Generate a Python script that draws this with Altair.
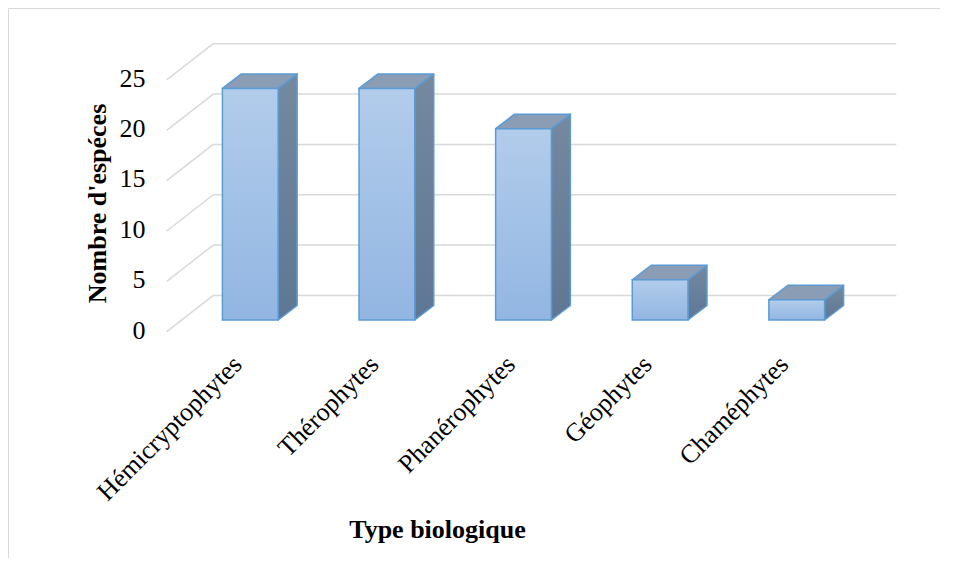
import json
import altair as alt
import pandas as pd

categories = ["Hémicryptophytes", "Thérophytes", "Phanérophytes", "Géophytes", "Chaméphytes"]
values = [23, 23, 19, 4, 2]
y_ticks = [0, 5, 10, 15, 20, 25]

# pseudo-3D geometry, in data units
HW = 0.204             # half width of a bar's front face
DX, DV = 0.139, 1.44   # depth of a bar
BX, BV = 0.229, 2.44   # back wall offset from the bars' front plane
FX, FV = -0.112, -1.16 # floor front offset from the bars' front plane

W, H = 760, 310
X_DOM = [-0.734, 4.829]
Y_DOM = [-1.986, 28.80]
FONT = "Liberation Serif"

n = len(categories)
idx = list(range(n))

bars = pd.DataFrame({"cat": categories, "i": idx, "v": values})
bars["x0"] = bars["i"] - HW
bars["x1"] = bars["i"] + HW
bars["base"] = 0

top_rows, side_rows = [], []
for c, i, v in zip(categories, idx, values):
    top_rows += [dict(cat=c, y=v, xa=i - HW, xb=i + HW),
                 dict(cat=c, y=v + DV, xa=i - HW + DX, xb=i + HW + DX)]
    side_rows += [dict(cat=c, x=i + HW, ya=0, yb=v),
                  dict(cat=c, x=i + HW + DX, ya=DV, yb=v + DV)]
top = pd.DataFrame(top_rows)
side = pd.DataFrame(side_rows)

grid = pd.DataFrame({"t": y_ticks})
grid["bx0"] = -0.5 + BX
grid["bx1"] = n - 0.5 + BX
grid["by"] = grid["t"] + BV
grid["fx"] = -0.5 + FX
grid["fy"] = grid["t"] + FV

xs = alt.Scale(domain=X_DOM, nice=False, zero=False)
ys = alt.Scale(domain=Y_DOM, nice=False, zero=False)

STROKE = "#5b9bd5"
front_grad = alt.Gradient(gradient="linear", x1=0, x2=0, y1=0, y2=1,
                          stops=[alt.GradientStop(color="#b2cceb", offset=0),
                                 alt.GradientStop(color="#92b6e2", offset=1)])
side_grad = alt.Gradient(gradient="linear", x1=0, x2=0, y1=0, y2=1,
                         stops=[alt.GradientStop(color="#75899f", offset=0),
                                alt.GradientStop(color="#5e7794", offset=1)])

back_lines = alt.Chart(grid).mark_rule(color="#d9d9d9", strokeWidth=1.5).encode(
    x=alt.X("bx0:Q", scale=xs), x2="bx1",
    y=alt.Y("by:Q", scale=ys))
diag_lines = alt.Chart(grid).mark_rule(color="#d9d9d9", strokeWidth=1.5).encode(
    x=alt.X("fx:Q", scale=xs), x2="bx0",
    y=alt.Y("fy:Q", scale=ys), y2="by")

side_faces = alt.Chart(side).mark_area(
    orient="vertical", fill=side_grad, stroke=STROKE, strokeWidth=1.5, strokeJoin="round"
).encode(x=alt.X("x:Q", scale=xs),
         y=alt.Y("ya:Q", scale=ys), y2="yb", detail="cat:N")

top_faces = alt.Chart(top).mark_area(
    orient="horizontal", fill="#8a9db4", stroke=STROKE, strokeWidth=1.5, strokeJoin="round"
).encode(y=alt.Y("y:Q", scale=ys),
         x=alt.X("xa:Q", scale=xs), x2="xb", detail="cat:N")

x_axis = alt.Axis(values=idx, labelExpr=json.dumps(categories, ensure_ascii=False) + "[datum.value]",
                  labelAngle=-45, labelAlign="right", labelBaseline="middle", labelPadding=20,
                  labelOffset=-13, labelLimit=0,
                  labelFlush=False, labelOverlap=False, ticks=False, tickSize=0, domain=False, grid=False,
                  labelFont=FONT, labelFontSize=26, labelColor="black",
                  title="Type biologique", titleFont=FONT, titleFontSize=26, titleFontWeight="bold",
                  titleColor="black", titleX=287, titleY=197, titleAlign="center",
                  titleBaseline="alphabetic")
y_axis = alt.Axis(values=y_ticks, ticks=False, tickSize=0, domain=False, grid=False,
                  labelPadding=5, labelOffset=10, labelFlush=False,
                  labelFont=FONT, labelFontSize=26, labelColor="black",
                  title="Nombre d'espéces", titleFont=FONT, titleFontSize=26, titleFontWeight="bold",
                  titleColor="black", titleAngle=-90, titleX=-53, titleY=173, titleAlign="center",
                  titleBaseline="middle")

front_faces = alt.Chart(bars).mark_rect(
    fill=front_grad, stroke=STROKE, strokeWidth=1.5
).encode(x=alt.X("x0:Q", scale=xs, axis=x_axis), x2="x1",
         y=alt.Y("v:Q", scale=ys, axis=y_axis), y2="base")

frame_df = pd.DataFrame({"k": [0]})
frame = alt.Chart(frame_df).mark_rect(fillOpacity=0, stroke="#d9d9d9", strokeWidth=1).encode(
    x=alt.value(-141.5), x2=alt.value(W + 80), y=alt.value(-21.5), y2=alt.value(H + 300))

chart = alt.layer(
    frame, back_lines, diag_lines, side_faces, top_faces, front_faces
).properties(
    width=W, height=H,
    autosize=alt.AutoSizeParams(type="none"),
    padding={"left": 142, "top": 22, "right": 30, "bottom": 218},
).configure_view(stroke=None)

chart.save("out.html", embed_options={"renderer": "svg", "actions": False})
